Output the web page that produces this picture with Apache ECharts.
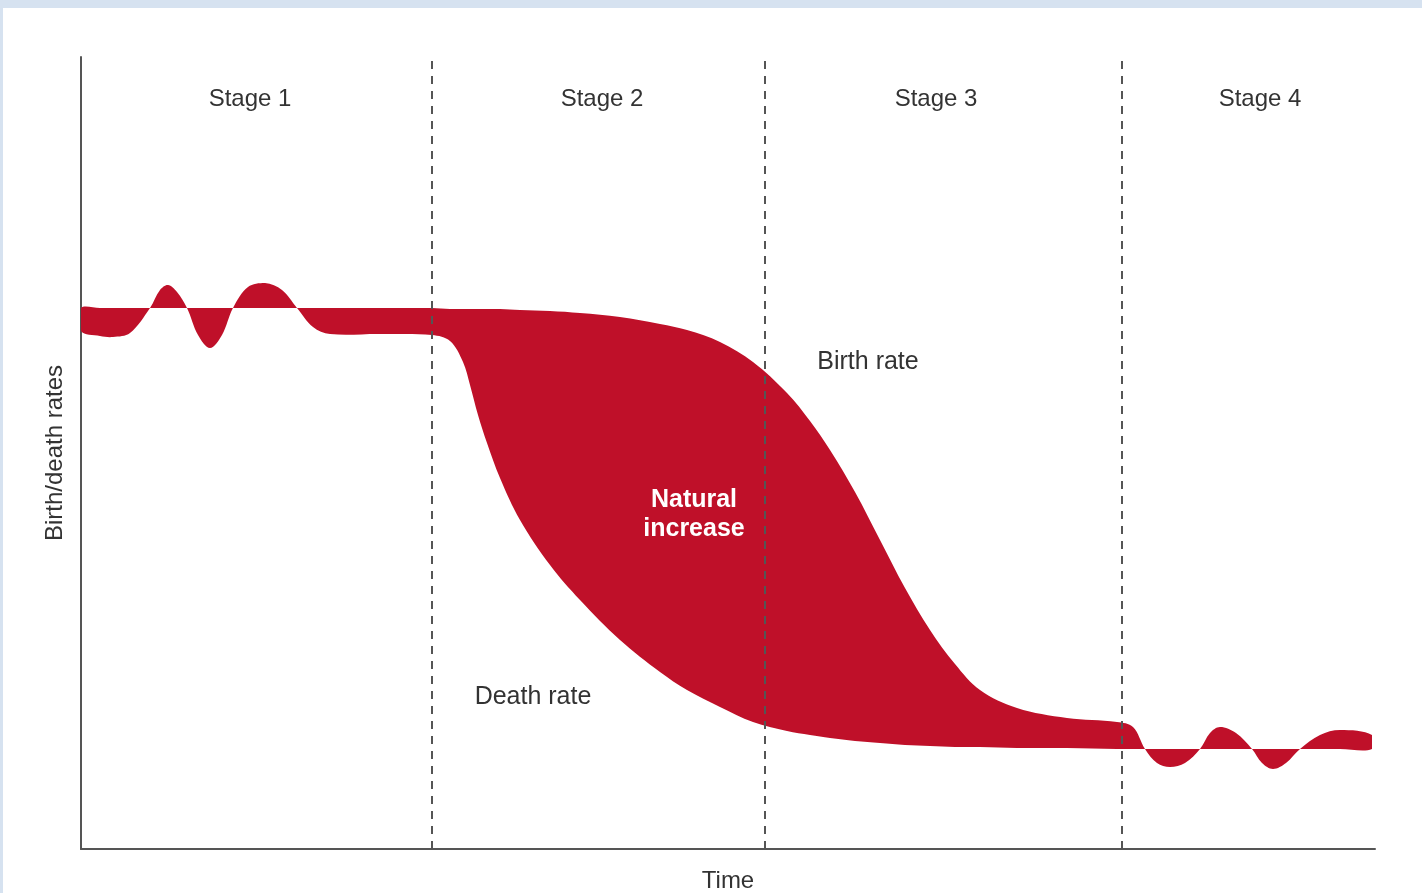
<!DOCTYPE html>
<html lang="en">
<head>
    <meta charset="UTF-8">
    <title>Demographic transition</title>
    <script src="https://cdn.jsdelivr.net/npm/echarts@6/dist/echarts.min.js"></script>
    <style>
        html, body { margin: 0; padding: 0; background: #d6e2f0; }
        #panel { position: absolute; left: 3px; top: 8px; right: 0; bottom: 0; background: #fff; }
        #main { position: absolute; left: 0; top: 0; width: 1422px; height: 893px; }
    </style>
</head>
<body>
<div id="panel"></div>
<div id="main"></div>
<script type="text/javascript">
    // time (arbitrary units) and rates
    var time = [0, 1.9, 3.2, 4.9, 6.9, 7.9, 8.7, 9.6, 10.6, 11.7,
        12.9, 14.1, 15.2, 16.7, 18.4, 20.1, 21.6, 23.2, 24.9, 29.9,
        35.1,
        36.9, 38.2, 38.9, 39.7, 40.6, 41.9, 43.9, 46.9, 49.9, 53.9,
        57.9, 60.6, 63.9, 67.2, 70.6, 72.9, 74.9, 77.4, 79.9, 82.4,
        84.9, 87.4, 89.9, 93.6, 98.6, 103.6,
        105.2, 106.4, 107.6, 108.9, 110.4, 111.9, 112.9, 113.9, 115.5, 117.1,
        118.1, 119.2, 120.5, 121.9, 123.9, 125.9, 129.1];
    var birthRate = [54.1, 54.1, 54.1, 54.1, 54.1, 54.1, 54.1, 54.1, 54.1, 54.1,
        54.1, 54.1, 54.1, 54.1, 54.1, 54.1, 54.1, 54.1, 54.1, 54.1,
        54.1,
        54.0, 54.0, 54.0, 54.0, 54.0, 54.0, 53.9, 53.8, 53.6, 53.2,
        52.5, 51.9, 50.7, 48.7, 45.6, 42.8, 39.9, 35.7, 30.9, 26.1,
        21.9, 18.5, 15.9, 14.1, 13.1, 12.7,
        12.2, 10.0, 8.6, 8.2, 8.6, 10.0, 11.6, 12.2, 11.6, 10.0,
        8.6, 8.0, 8.6, 10.0, 11.4, 11.9, 11.4];
    var deathRate = [51.8, 51.3, 51.2, 51.6, 54.1, 55.9, 56.4, 55.7, 54.1, 51.4,
        50.1, 51.4, 54.1, 56.2, 56.6, 55.9, 54.1, 52.2, 51.5, 51.5,
        51.4,
        50.8, 48.7, 46.4, 43.4, 40.6, 37.1, 32.9, 28.4, 24.9, 20.9,
        17.7, 15.9, 14.2, 12.7, 11.8, 11.4, 11.1, 10.8, 10.6, 10.4,
        10.3, 10.2, 10.2, 10.1, 10.1, 10.0,
        10.0, 10.0, 10.0, 10.0, 10.0, 10.0, 10.0, 10.0, 10.0, 10.0,
        10.0, 10.0, 10.0, 10.0, 10.0, 10.0, 10.0];
    var stageBounds = [35.1, 68.4, 104.1];
    var stageNames = ['Stage 1', 'Stage 2', 'Stage 3', 'Stage 4'];
    var stageCentres = [16.9, 52.1, 85.5, 117.9];
    var stageLabelY = 75.0;
    // in-chart labels: [text, time, rate]
    var notes = [['Birth rate', 78.7, 48.7], ['Death rate', 45.2, 15.2]];
    var bigNote = ['Natural\nincrease', 61.3, 33.4];

    var red = '#bf1029';
    var ink = '#555555';
    var font = 'Liberation Sans';

    var stageData = stageNames.map(function (n, i) {
        return { name: n, value: [stageCentres[i], stageLabelY] };
    });
    var noteData = notes.map(function (n) {
        return { name: n[0], value: [n[1], n[2]] };
    });

    var myChart = echarts.init(document.getElementById('main'));
    var option = {
        animation: false,
        backgroundColor: 'transparent',
        grid: { left: 81, right: 47, top: 57, bottom: 44, outerBoundsMode: 'none' },
        xAxis: {
            type: 'value', min: 0, max: 129.4,
            name: 'Time', nameLocation: 'middle', nameGap: 20,
            nameTextStyle: { fontFamily: font, fontSize: 24, color: '#333' },
            axisLine: { show: true, lineStyle: { color: ink, width: 2 } },
            axisTick: { show: false }, axisLabel: { show: false }, splitLine: { show: false }
        },
        yAxis: {
            type: 'value', min: 0, max: 79.2,
            name: 'Birth/death rates', nameLocation: 'middle', nameGap: 14, nameRotate: 90,
            nameTextStyle: { fontFamily: font, fontSize: 24, color: '#333' },
            axisLine: { show: true, lineStyle: { color: ink, width: 2 } },
            axisTick: { show: false }, axisLabel: { show: false }, splitLine: { show: false }
        },
        series: [
            {
                // filled band between birth rate and death rate
                name: 'Natural increase', type: 'custom', coordinateSystem: 'cartesian2d',
                silent: true, z: 2,
                data: [[time[0], birthRate[0]]],
                renderItem: function (params, api) {
                    var pts = [];
                    for (var i = 0; i < time.length; i++) {
                        pts.push(api.coord([time[i], birthRate[i]]));
                    }
                    for (var j = time.length - 1; j >= 0; j--) {
                        pts.push(api.coord([time[j], deathRate[j]]));
                    }
                    var lo = [Infinity, Infinity], hi = [-Infinity, -Infinity];
                    pts.forEach(function (p) {
                        lo[0] = Math.min(lo[0], p[0]); lo[1] = Math.min(lo[1], p[1]);
                        hi[0] = Math.max(hi[0], p[0]); hi[1] = Math.max(hi[1], p[1]);
                    });
                    return {
                        type: 'polygon',
                        shape: { points: pts, smooth: 0.35, smoothConstraint: [lo, hi] },
                        style: { fill: red }
                    };
                }
            },
            {
                type: 'scatter', symbolSize: 0, silent: true, z: 5,
                itemStyle: { opacity: 1 },
                data: stageData,
                label: {
                    show: true, position: 'inside', formatter: '{b}',
                    fontFamily: font, fontSize: 24, color: '#333'
                },
                markLine: {
                    silent: true, symbol: 'none', label: { show: false },
                    lineStyle: { color: ink, width: 2, type: [8, 7] },
                    data: stageBounds.map(function (x) { return { xAxis: x }; })
                }
            },
            {
                type: 'scatter', symbolSize: 0, silent: true, z: 5,
                itemStyle: { opacity: 1 },
                data: noteData,
                label: {
                    show: true, position: 'inside', formatter: '{b}',
                    fontFamily: font, fontSize: 25, color: '#333'
                }
            },
            {
                type: 'scatter', symbolSize: 0, silent: true, z: 5,
                itemStyle: { opacity: 1 },
                data: [{ name: bigNote[0], value: [bigNote[1], bigNote[2]] }],
                label: {
                    show: true, position: 'inside', formatter: '{b}',
                    fontFamily: font, fontSize: 25, fontWeight: 'bold',
                    color: '#fff', lineHeight: 29, align: 'center'
                }
            }
        ]
    };
    myChart.setOption(option);
</script>
</body>
</html>
